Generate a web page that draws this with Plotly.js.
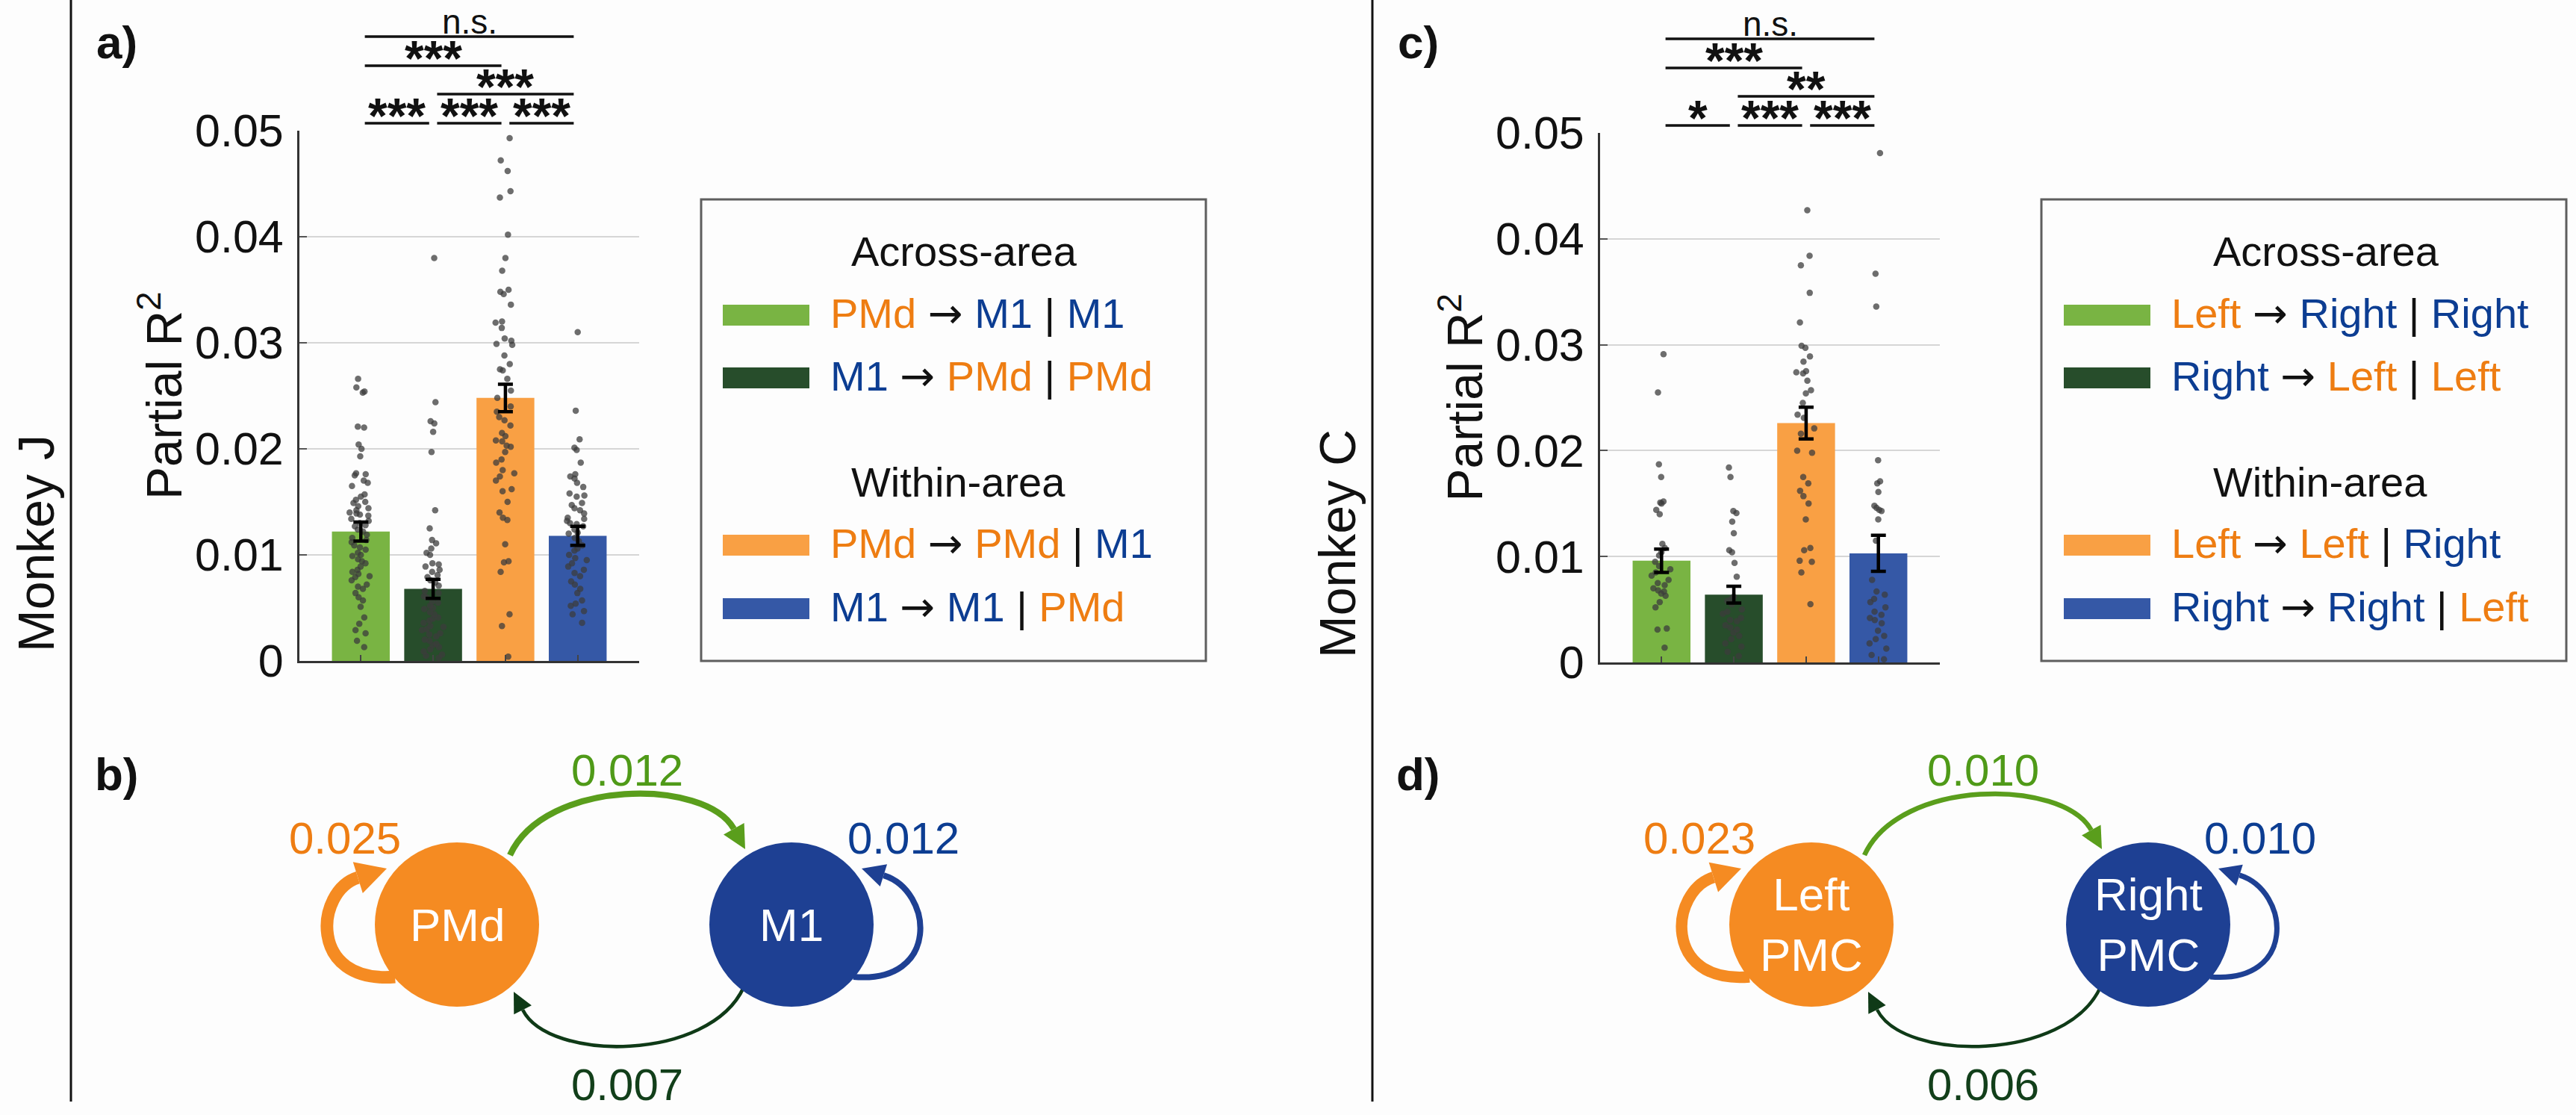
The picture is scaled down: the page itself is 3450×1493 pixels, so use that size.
<!DOCTYPE html>
<html>
<head>
<meta charset="utf-8">
<script src="https://cdn.plot.ly/plotly-3.0.1.min.js"></script>
<style>html,body{margin:0;padding:0;background:#fdfdfd;}</style>
</head>
<body>
<div id="fig" style="width:3450px;height:1493px;"></div>
<script>
// ---------- data ----------
const areasJ = ['PMd', 'M1'];
const areasC = ['Left', 'Right'];
const nodeNamesJ = ['PMd', 'M1'];
const nodeNamesC = ['Left<br>PMC', 'Right<br>PMC'];
const groupTitles = ['Across-area', 'Within-area'];
// each interaction: [source, target, conditioned-on] as indices into the area names
const interactions = [[0, 1, 1], [1, 0, 0], [0, 0, 1], [1, 1, 0]];

// Monkey J: mean partial R^2 and SEM per interaction
const meanJ = [0.0122, 0.0068, 0.0248, 0.0118];
const semJ = [0.0009, 0.0009, 0.0013, 0.0009];
// Monkey C
const meanC = [0.0096, 0.0064, 0.0226, 0.0103];
const semC = [0.0011, 0.0008, 0.0015, 0.0017];

// per-session values, Monkey J
const pointsJ1 = [0.0266, 0.0258, 0.0254, 0.0253, 0.0221, 0.0220, 0.0204, 0.0200, 0.0193, 0.0177, 0.0176, 0.0175, 0.0170, 0.0168, 0.0165, 0.0157, 0.0155, 0.0152, 0.0150, 0.0149, 0.0146, 0.0144, 0.0142, 0.0140, 0.0139, 0.0138, 0.0137, 0.0134, 0.0132, 0.0130, 0.0128, 0.0127, 0.0124, 0.0122, 0.0119, 0.0116, 0.0114, 0.0112, 0.0109, 0.0107, 0.0105, 0.0102, 0.0100, 0.0099, 0.0096, 0.0094, 0.0092, 0.0089, 0.0086, 0.0084, 0.0082, 0.0080, 0.0079, 0.0076, 0.0072, 0.0070, 0.0068, 0.0064, 0.0060, 0.0057, 0.0051, 0.0041, 0.0035, 0.0029, 0.0026, 0.0019, 0.0013];
const pointsJ2 = [0.0380, 0.0244, 0.0226, 0.0224, 0.0216, 0.0197, 0.0142, 0.0125, 0.0114, 0.0111, 0.0106, 0.0102, 0.0100, 0.0092, 0.0091, 0.0089, 0.0086, 0.0084, 0.0081, 0.0079, 0.0076, 0.0074, 0.0071, 0.0066, 0.0064, 0.0061, 0.0060, 0.0056, 0.0055, 0.0052, 0.0050, 0.0049, 0.0046, 0.0044, 0.0041, 0.0040, 0.0038, 0.0036, 0.0033, 0.0032, 0.0030, 0.0029, 0.0026, 0.0025, 0.0023, 0.0020, 0.0019, 0.0016, 0.0015, 0.0013, 0.0011, 0.0009, 0.0006, 0.0005, 0.0003];
const pointsJ3 = [0.0493, 0.0472, 0.0462, 0.0443, 0.0437, 0.0402, 0.0380, 0.0368, 0.0350, 0.0348, 0.0346, 0.0336, 0.0320, 0.0319, 0.0314, 0.0304, 0.0302, 0.0299, 0.0298, 0.0288, 0.0280, 0.0275, 0.0274, 0.0266, 0.0255, 0.0248, 0.0240, 0.0235, 0.0230, 0.0227, 0.0222, 0.0215, 0.0212, 0.0208, 0.0207, 0.0203, 0.0202, 0.0197, 0.0190, 0.0187, 0.0180, 0.0177, 0.0174, 0.0170, 0.0162, 0.0160, 0.0150, 0.0140, 0.0135, 0.0133, 0.0110, 0.0094, 0.0093, 0.0084, 0.0044, 0.0033, 0.0004];
const pointsJ4 = [0.0310, 0.0236, 0.0209, 0.0201, 0.0199, 0.0187, 0.0176, 0.0174, 0.0172, 0.0168, 0.0164, 0.0158, 0.0156, 0.0155, 0.0149, 0.0147, 0.0144, 0.0142, 0.0139, 0.0135, 0.0134, 0.0132, 0.0130, 0.0129, 0.0127, 0.0124, 0.0121, 0.0120, 0.0116, 0.0113, 0.0109, 0.0106, 0.0104, 0.0100, 0.0097, 0.0095, 0.0092, 0.0089, 0.0086, 0.0083, 0.0080, 0.0075, 0.0072, 0.0068, 0.0064, 0.0057, 0.0054, 0.0052, 0.0047, 0.0044, 0.0036];
// per-session values, Monkey C
const pointsC1 = [0.0291, 0.0255, 0.0187, 0.0175, 0.0152, 0.0151, 0.0150, 0.0144, 0.0140, 0.0112, 0.0108, 0.0104, 0.0101, 0.0095, 0.0091, 0.0088, 0.0085, 0.0082, 0.0078, 0.0075, 0.0073, 0.0070, 0.0068, 0.0067, 0.0065, 0.0063, 0.0057, 0.0052, 0.0032, 0.0031, 0.0014];
const pointsC2 = [0.0184, 0.0175, 0.0143, 0.0141, 0.0133, 0.0122, 0.0106, 0.0104, 0.0094, 0.0081, 0.0062, 0.0060, 0.0058, 0.0055, 0.0050, 0.0048, 0.0046, 0.0042, 0.0040, 0.0039, 0.0035, 0.0033, 0.0031, 0.0028, 0.0025, 0.0022, 0.0018, 0.0015, 0.0010, 0.0006];
const pointsC3 = [0.0427, 0.0384, 0.0375, 0.0349, 0.0321, 0.0299, 0.0297, 0.0289, 0.0284, 0.0275, 0.0274, 0.0273, 0.0266, 0.0257, 0.0254, 0.0245, 0.0234, 0.0231, 0.0221, 0.0216, 0.0200, 0.0198, 0.0175, 0.0169, 0.0162, 0.0157, 0.0150, 0.0135, 0.0108, 0.0106, 0.0096, 0.0095, 0.0085, 0.0055];
const pointsC4 = [0.0481, 0.0367, 0.0336, 0.0191, 0.0171, 0.0169, 0.0161, 0.0148, 0.0146, 0.0144, 0.0143, 0.0135, 0.0115, 0.0078, 0.0067, 0.0064, 0.0060, 0.0057, 0.0052, 0.0048, 0.0045, 0.0042, 0.0040, 0.0037, 0.0030, 0.0025, 0.0022, 0.0018, 0.0013, 0.0007, 0.0003];

// pairwise comparisons (bar indices) and their significance marks
const sigPairs = [[1, 2], [2, 3], [3, 4], [2, 4], [1, 3], [1, 4]];
const sigJ = ['***', '***', '***', '***', '***', 'n.s.'];
const sigC = ['*', '***', '***', '**', '***', 'n.s.'];

// ---------- styles & geometry ----------
const W = 3450, H = 1493;
const FONT = 'Liberation Sans, Arial, Helvetica, sans-serif';
const barColors = ['#79B443', '#274D2B', '#F9A044', '#3558A6'];
const areaTextColors = ['#EE7D12', '#0C3D92'];
const nodeColors = ['#F58B22', '#1E4093'];
const edgeColors = ['#5A9E1C', '#0F3A17', '#F58B22', '#1E4093'];
const edgeLabelColors = ['#4F9A18', '#123F1A', '#EE7D12', '#0C3D92'];
const sigLevels = [0, 0, 0, 1, 2, 3];
const sigOffsets = [10, 49, 87, 126];
const legendHeadY = [336, 645];
const legendRowY = [422, 506, 730, 815];

const fx = p => p / W;
const fy = p => 1 - p / H;

const panels = [
  { xa: 'x', ya: 'y', monkey: 'Monkey J', tags: ['a)', 'b)'], areas: areasJ, nodes: nodeNamesJ,
    mean: meanJ, sem: semJ, pts: [pointsJ1, pointsJ2, pointsJ3, pointsJ4], sig: sigJ,
    g: { divider: 95, left: 401, right: 856, top: 175, bottom: 885, box: [939, 1615],
         swatchX: 968, textX: 1110, headX: 1138, L: [612, 1238], R: [1060, 1238] } },
  { xa: 'x2', ya: 'y2', monkey: 'Monkey C', tags: ['c)', 'd)'], areas: areasC, nodes: nodeNamesC,
    mean: meanC, sem: semC, pts: [pointsC1, pointsC2, pointsC3, pointsC4], sig: sigC,
    g: { divider: 1838, left: 2143, right: 2598, top: 178, bottom: 887, box: [2734, 3437],
         swatchX: 2764, textX: 2906, headX: 2962, L: [2426, 1238], R: [2877, 1238] } }
];

const data = [];
const shapes = [];
const annotations = [];
const layout = {
  width: W, height: H,
  margin: { l: 0, r: 0, t: 0, b: 0 },
  paper_bgcolor: '#fdfdfd', plot_bgcolor: 'rgba(0,0,0,0)',
  showlegend: false, boxmode: 'overlay',
  font: { family: FONT, color: '#111' }
};

function txt(x, y, text, size, color, extra) {
  return Object.assign({ xref: 'paper', yref: 'paper', x: fx(x), y: fy(y), text: text,
    showarrow: false, xanchor: 'center', yanchor: 'middle',
    font: { family: FONT, size: size, color: color || '#111' } }, extra || {});
}
const add = (p, d) => [p[0] + d[0], p[1] + d[1]];
const pt = p => fx(p[0]).toFixed(6) + ',' + fy(p[1]).toFixed(6);

// curved connection ending in an arrowhead whose tip sits at `tip`
function edge(p0, p1, p2, tip, w, color, heads) {
  const len = 22 + 1.1 * w, hw = 10 + 0.7 * w;
  const dx = tip[0] - p2[0], dy = tip[1] - p2[1], m = Math.hypot(dx, dy);
  const ux = dx / m, uy = dy / m;
  const base = [tip[0] - ux * len, tip[1] - uy * len];
  shapes.push({ type: 'path', xref: 'paper', yref: 'paper',
    path: 'M' + pt(p0) + ' C' + pt(p1) + ' ' + pt(p2) + ' ' + pt(base),
    line: { color: color, width: w }, fillcolor: 'rgba(0,0,0,0)' });
  const c1 = [base[0] - uy * hw, base[1] + ux * hw];
  const c2 = [base[0] + uy * hw, base[1] - ux * hw];
  heads.push({ type: 'path', xref: 'paper', yref: 'paper',
    path: 'M' + pt(tip) + ' L' + pt(c1) + ' L' + pt(c2) + ' Z',
    line: { width: 0 }, fillcolor: color });
}

panels.forEach((P, k) => {
  const g = P.g;
  const sfx = k === 0 ? '' : String(k + 1);
  layout['xaxis' + sfx] = {
    domain: [fx(g.left), fx(g.right)], range: [0.15, 4.85], type: 'linear', anchor: P.ya,
    showline: true, linecolor: '#333', linewidth: 3, ticks: 'inside', tickvals: [1, 2, 3, 4],
    ticklen: 8, tickwidth: 2, tickcolor: '#444', showticklabels: false, showgrid: false,
    zeroline: false, fixedrange: true
  };
  layout['yaxis' + sfx] = {
    domain: [fy(g.bottom), fy(g.top)], range: [0, 0.05], tick0: 0, dtick: 0.01, anchor: P.xa,
    showline: true, linecolor: '#333', linewidth: 3, ticks: 'inside', ticklen: 10, tickwidth: 2,
    tickcolor: '#555', showgrid: true, gridcolor: '#d6d6d6', gridwidth: 2, zeroline: false,
    tickfont: { family: FONT, size: 61, color: '#111' }, ticklabelstandoff: 6, fixedrange: true
  };

  // bars
  data.push({ type: 'bar', x: [1, 2, 3, 4], y: P.mean, xaxis: P.xa, yaxis: P.ya, width: 0.8,
    marker: { color: barColors, line: { width: 0 } }, hoverinfo: 'skip' });
  // individual sessions
  P.pts.forEach((arr, i) => data.push({
    type: 'box', x0: i + 1, y: arr, xaxis: P.xa, yaxis: P.ya, width: 0.36,
    boxpoints: 'all', jitter: 0.9, pointpos: 0, whiskerwidth: 0,
    fillcolor: 'rgba(0,0,0,0)', line: { width: 0, color: 'rgba(0,0,0,0)' },
    marker: { size: 8.5, color: 'rgba(60,60,60,0.75)', line: { width: 0 } }, hoverinfo: 'skip'
  }));
  // SEM error bars, drawn above the points
  data.push({ type: 'scatter', mode: 'markers', x: [1, 2, 3, 4], y: P.mean, xaxis: P.xa, yaxis: P.ya,
    marker: { size: 2, opacity: 0 }, hoverinfo: 'skip',
    error_y: { type: 'data', array: P.sem, visible: true, color: '#000', thickness: 4.5, width: 10 } });

  // significance brackets
  sigPairs.forEach(([a, b], j) => {
    const yl = g.top - sigOffsets[sigLevels[j]];
    shapes.push({ type: 'line', xref: P.xa, yref: 'paper', x0: a + 0.055, x1: b - 0.055,
      y0: fy(yl), y1: fy(yl), line: { color: '#111', width: 3.5 } });
    const ns = P.sig[j] === 'n.s.';
    annotations.push({ xref: P.xa, yref: 'paper', x: (a + b) / 2, y: fy(yl - (ns ? 20 : 10)),
      yanchor: 'middle', showarrow: false, text: ns ? 'n.s.' : '<b>' + P.sig[j] + '</b>',
      font: { family: FONT, size: ns ? 46 : 66, color: '#111' } });
  });

  // divider, monkey name, panel tags, y title
  shapes.push({ type: 'line', xref: 'paper', yref: 'paper', x0: fx(g.divider), x1: fx(g.divider),
    y0: fy(0), y1: fy(1475), line: { color: '#111', width: 3 } });
  annotations.push(txt(g.divider - 47, 728, P.monkey, 68, '#111', { textangle: -90 }));
  annotations.push(txt(g.divider + 32, 56, '<b>' + P.tags[0] + '</b>', 62, '#111', { xanchor: 'left' }));
  annotations.push(txt(g.divider + 30, 1036, '<b>' + P.tags[1] + '</b>', 62, '#111', { xanchor: 'left' }));
  annotations.push(txt(g.left - 186, (g.top + g.bottom) / 2, 'Partial R<sup>2</sup>', 66, '#111', { textangle: -90 }));

  // legend box
  shapes.push({ type: 'rect', xref: 'paper', yref: 'paper', x0: fx(g.box[0]), x1: fx(g.box[1]),
    y0: fy(885), y1: fy(267), line: { color: '#5e5e5e', width: 3 }, fillcolor: 'rgba(0,0,0,0)' });
  groupTitles.forEach((t, j) => annotations.push(txt(g.headX, legendHeadY[j], t, 56, '#111', { xanchor: 'left' })));
  const span = i => '<span style="color:' + areaTextColors[i] + '">' + P.areas[i] + '</span>';
  const arrow = '<span style="font-family:DejaVu Sans">\u2192</span>';
  interactions.forEach(([s, t, c], i) => {
    const yc = legendRowY[i];
    shapes.push({ type: 'rect', xref: 'paper', yref: 'paper', x0: fx(g.swatchX), x1: fx(g.swatchX + 116),
      y0: fy(yc + 14), y1: fy(yc - 14), line: { width: 0 }, fillcolor: barColors[i] });
    annotations.push(txt(g.textX, yc - 3, span(s) + ' ' + arrow + ' ' + span(t) + ' | ' + span(c), 56, '#111', { xanchor: 'left' }));
  });

  // interaction diagram
  const L = g.L, R = g.R, heads = [];
  const wScale = 680;
  edge(add(L, [71, -93]), add(L, [118, -196]), add(R, [-115, -196]), add(R, [-62, -101]),
    P.mean[0] * wScale, edgeColors[0], heads);
  edge(add(R, [-64, 84]), add(R, [-110, 184]), add(L, [123, 184]), add(L, [76, 90]),
    P.mean[1] * wScale, edgeColors[1], heads);
  edge(add(L, [-83, 70]), add(L, [-200, 80]), add(L, [-190, -45]), add(L, [-94, -75]),
    P.mean[2] * wScale, edgeColors[2], heads);
  edge(add(R, [83, 70]), add(R, [200, 80]), add(R, [190, -45]), add(R, [94, -75]),
    P.mean[3] * wScale, edgeColors[3], heads);
  const r = 110;
  [L, R].forEach((c, i) => {
    shapes.push({ type: 'circle', xref: 'paper', yref: 'paper', x0: fx(c[0] - r), x1: fx(c[0] + r),
      y0: fy(c[1] + r), y1: fy(c[1] - r), line: { width: 0 }, fillcolor: nodeColors[i] });
    annotations.push(txt(c[0], c[1], P.nodes[i], 62, '#ffffff'));
  });
  heads.forEach(h => shapes.push(h));
  const midX = (L[0] + R[0]) / 2 + 4;
  annotations.push(txt(midX, L[1] - 207, P.mean[0].toFixed(3), 60, edgeLabelColors[0]));
  annotations.push(txt(midX, L[1] + 214, P.mean[1].toFixed(3), 60, edgeLabelColors[1]));
  annotations.push(txt(L[0] - 150, L[1] - 116, P.mean[2].toFixed(3), 60, edgeLabelColors[2]));
  annotations.push(txt(R[0] + 150, R[1] - 116, P.mean[3].toFixed(3), 60, edgeLabelColors[3]));
});

layout.shapes = shapes;
layout.annotations = annotations;
Plotly.newPlot('fig', data, layout, { staticPlot: true, displayModeBar: false });
</script>
</body>
</html>
